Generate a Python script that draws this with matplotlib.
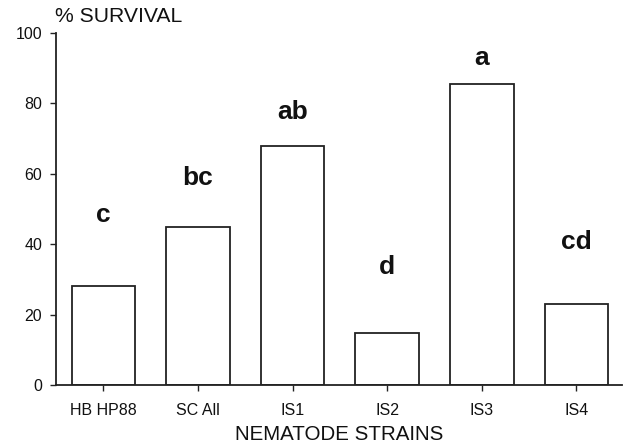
import matplotlib
matplotlib.use("Agg")
import matplotlib.pyplot as plt

strains = ["HB HP88", "SC All", "IS1", "IS2", "IS3", "IS4"]
survival = [28.3, 45.0, 67.9, 14.9, 85.6, 23.2]
letters = ["c", "bc", "ab", "d", "a", "cd"]
letter_y = [48.4, 58.9, 77.6, 33.6, 93.0, 40.7]
yticks = [0, 20, 40, 60, 80, 100]

plt.rcParams['font.family'] = ['Liberation Sans', 'DejaVu Sans']

fig = plt.figure(figsize=(6.25, 4.44), dpi=100)
ax = fig.add_axes([0.0896, 0.132, 0.9054, 0.7937])
x = list(range(len(strains)))
ax.bar(x, survival, width=0.67, facecolor="white", edgecolor="#222222", linewidth=1.3)
for xi, lab, ly in zip(x, letters, letter_y):
    ax.text(xi, ly, lab, ha="center", va="center", fontsize=19, fontweight="bold", color="#111111")

ax.set_xlim(-0.5, 5.48)
ax.set_ylim(0, 100)
ax.set_xticks(x)
ax.set_xticklabels(strains, fontsize=11.5)
ax.set_yticks(yticks)
ax.set_yticklabels([str(v) for v in yticks], fontsize=11.5)
ax.tick_params(direction="out", length=4, width=1.0, colors="#222222", labelcolor="#111111")
ax.tick_params(axis="x", pad=9)
ax.tick_params(axis="y", pad=6)
for s in ["top", "right"]:
    ax.spines[s].set_visible(False)
for s in ["left", "bottom"]:
    ax.spines[s].set_linewidth(1.3)
    ax.spines[s].set_color("#222222")
ax.set_xlabel("NEMATODE STRAINS", fontsize=14.8, color="#111111", labelpad=5)
fig.text(0.088, 0.962, "% SURVIVAL", fontsize=15.2, ha="left", va="center", color="#111111")

fig.savefig("out.png", dpi=100)
